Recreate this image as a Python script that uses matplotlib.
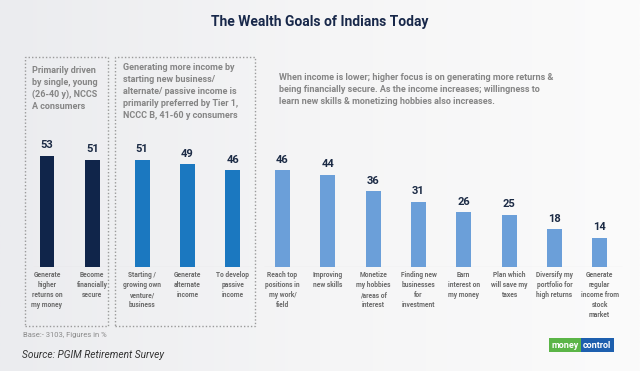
import matplotlib
matplotlib.use("Agg")
import matplotlib.pyplot as plt
from matplotlib.patches import Rectangle
from matplotlib.colors import LinearSegmentedColormap
import numpy as np

# ---------------- data ----------------
categories = [
    "Generate\nhigher\nreturns on\nmy money",
    "Become\nfinancially\nsecure",
    "Starting /\ngrowing own\nventure/\nbusiness",
    "Generate\nalternate\nincome",
    "To develop\npassive\nincome",
    "Reach top\npositions in\nmy work/\nfield",
    "Improving\nnew skills",
    "Monetize\nmy hobbies\n/areas of\ninterest",
    "Finding new\nbusinesses\nfor\ninvestment",
    "Earn\ninterest on\nmy money",
    "Plan which\nwill save my\ntaxes",
    "Diversify my\nportfolio for\nhigh returns",
    "Generate\nregular\nincome from\nstock\nmarket",
]
values = [53, 51, 51, 49, 46, 46, 44, 36, 31, 26, 25, 18, 14]
groups = [0, 0, 1, 1, 1, 2, 2, 2, 2, 2, 2, 2, 2]
group_colors = ["#10254a", "#1b78c0", "#6b9fd9"]

title = "The Wealth Goals of Indians Today"
note1 = "Primarily driven\nby single, young\n(26-40 y), NCCS\nA consumers"
note2 = ("Generating more income by\nstarting new business/\nalternate/ passive income is\n"
         "primarily preferred by Tier 1,\nNCCC B, 41-60 y consumers")
note3 = ("When income is lower; higher focus is on generating more returns &\n"
         "being financially secure. As the income increases; willingness to\n"
         "learn new skills & monetizing hobbies also increases.")
base_text = "Base:- 3103, Figures in %"
source_text = "Source: PGIM Retirement Survey"

# ---------------- layout helpers ----------------
W, H = 640, 371
fig = plt.figure(figsize=(W / 100, H / 100), dpi=100)

def fx(x):
    return x / W

def fy(y):
    return 1 - y / H

# background gradient
bg = fig.add_axes([0, 0, 1, 1], zorder=-10)
grad = np.linspace(0, 1, 256)[None, :]
cmap = LinearSegmentedColormap.from_list("bg", ["#ebecef", "#f5f5f6", "#fbfbfb"])
bg.imshow(grad, aspect="auto", cmap=cmap, extent=[0, 1, 0, 1])
bg.set_axis_off()

FONT = ["Roboto", "DejaVu Sans"]

# main axes: baseline at y=267 px, 2.1 px per percent
px_per_unit = 45.3
x0_px = 47
ax = fig.add_axes([0, fy(267), 1, 210 / H])
ax.set_xlim(-x0_px / px_per_unit, (W - x0_px) / px_per_unit)
ax.set_ylim(0, 100)
ax.set_axis_off()
ax.patch.set_alpha(0)

gap = 0.1
xpos = np.array([i + gap * g for i, g in enumerate(groups)])
colors = [group_colors[g] for g in groups]
ax.bar(xpos, values, width=0.33, color=colors, zorder=3)

for x, v in zip(xpos, values):
    ax.annotate(str(v), (x, v), xytext=(0, 4), textcoords="offset points",
                ha="center", va="bottom", fontsize=8, fontweight="bold",
                color="#1c2b45", family=FONT)

for x, c in zip(xpos, categories):
    ax.annotate(c, (x, 0), xytext=(0, -3), textcoords="offset points",
                ha="center", va="top", fontsize=4.8, fontweight="bold",
                color="#6a6a6a", family=FONT, linespacing=1.32)

# baselines per group
for g, (lm, rm) in enumerate([(0.31, 0.31), (0.5, 0.5), (0.4, 0.5)]):
    gx = xpos[np.array(groups) == g]
    ax.hlines(0, gx.min() - lm, gx.max() + rm, color="#c8c8c8", lw=0.8, zorder=2)

# dotted boxes
for (x1, x2) in [(25, 108), (115, 255)]:
    r = Rectangle((fx(x1), fy(326)), fx(x2) - fx(x1), fy(57) - fy(326),
                  transform=fig.transFigure, fill=False, ec="#9a9a9a",
                  lw=1.0, ls=(0, (1, 1.5)))
    fig.add_artist(r)

# texts
fig.text(0.5, fy(22), title, ha="center", va="center", fontsize=10,
         fontweight="bold", color="#18284a", family=FONT)
note_kw = dict(ha="left", va="top", fontsize=6.5, fontweight="bold",
               color="#858585", family=FONT, linespacing=1.42)
fig.text(fx(32), fy(66), note1, **note_kw)
fig.text(fx(123), fy(63), note2, **note_kw)
fig.text(fx(279), fy(73), note3, **note_kw)
fig.text(fx(23), fy(335), base_text, ha="left", va="center", fontsize=5.5,
         color="#8a8a8a", family=FONT)
fig.text(fx(22), fy(355), source_text, ha="left", va="center", fontsize=7.3,
         style="italic", color="#333333", family=FONT)

# moneycontrol logo
fig.text(fx(551), fy(345), "money", ha="left", va="center", fontsize=6.5,
         fontweight="bold", color="white", family=FONT,
         bbox=dict(boxstyle="square,pad=0.25", fc="#5bb547", ec="none"))
fig.text(fx(583), fy(345), "control", ha="left", va="center", fontsize=6.5,
         fontweight="bold", color="white", family=FONT,
         bbox=dict(boxstyle="square,pad=0.25", fc="#1d5fae", ec="none"))

fig.savefig("out.png", dpi=100)
